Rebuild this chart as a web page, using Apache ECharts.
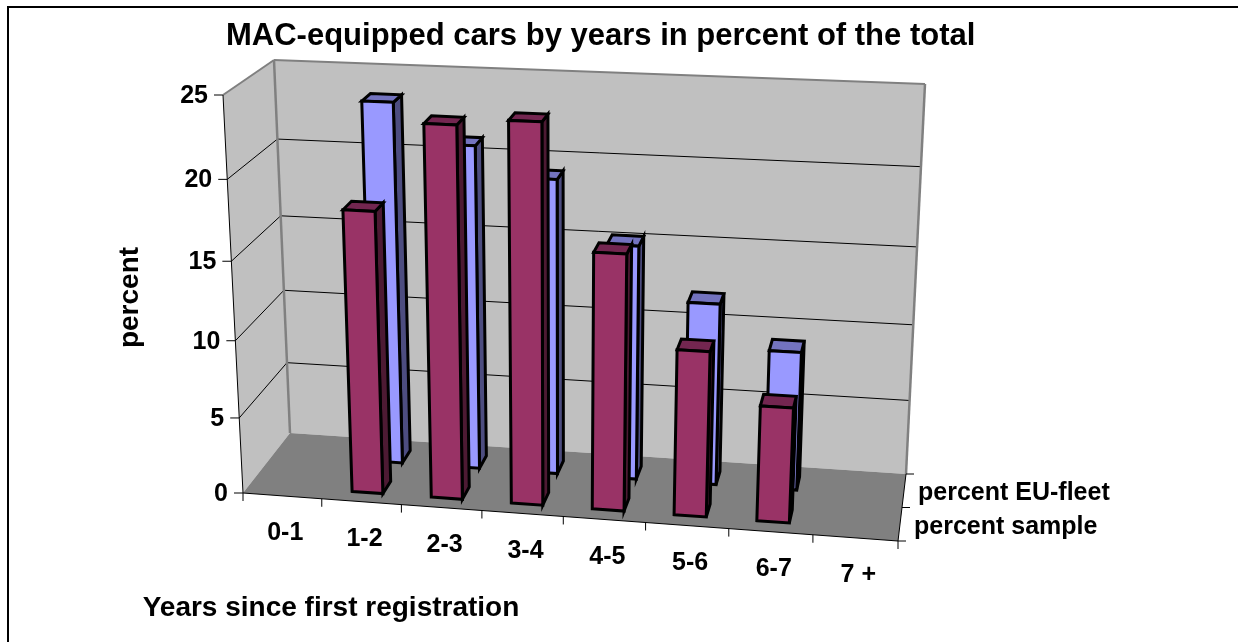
<!DOCTYPE html>
<html><head><meta charset="utf-8">
<style>html,body{margin:0;padding:0;background:#fff}#c{width:1238px;height:642px}</style>
<script src="https://cdn.jsdelivr.net/npm/echarts@6/dist/echarts.min.js"></script>
</head><body><div id="c"></div>
<script>
const categories = ['0-1','1-2','2-3','3-4','4-5','5-6','6-7','7 +'];
const percentSample = [null,18.1,23.5,23.9,16.3,10.6,7.4,null];
const percentFleet = [null,23.5,21.05,19.2,15.3,11.9,9.1,null];
const yTicks = [0,5,10,15,20,25];
const depthLabels = ['percent sample','percent EU-fleet'];
const titleText = 'MAC-equipped cars by years in percent of the total';
const xName = 'Years since first registration';
const yName = 'percent';

const FONT = '"Liberation Sans", Arial, sans-serif';
const C = {A:[243,493],B:[898,541],C:[906,474],D:[290,433],G:[223,95],H:[920,125],F:[925,84],E:[274,60]};
const warp = (x,a)=>x/(a+(1-a)*x);
const mix = (p,q,t)=>[p[0]+(q[0]-p[0])*t,p[1]+(q[1]-p[1])*t];
function proj(u,w,s){
  const t=warp(u/categories.length,1.045), f=warp(s,1.076);
  const b0=mix(mix(C.A,C.B,t),mix(C.D,C.C,t),w);
  const b1=mix(mix(C.G,C.H,t),mix(C.E,C.F,t),w);
  return mix(b0,b1,f);
}
const poly=(pts,fill,stroke,lw)=>({type:'polygon',shape:{points:pts},style:{fill:fill,stroke:stroke||'none',lineWidth:lw||0,lineJoin:'miter',miterLimit:6}});
const line=(p,q,color,lw)=>({type:'line',shape:{x1:p[0],y1:p[1],x2:q[0],y2:q[1]},style:{stroke:color,lineWidth:lw,fill:'none'}});
const text=(x,y,str,size,align,rot)=>({type:'text',x:x,y:y,rotation:rot||0,style:{text:str,fill:'#000',font:'bold '+size+'px '+FONT,textAlign:align||'center',textVerticalAlign:'middle'}});

function valueFrac(api,params,v){
  const cs=params.coordSys, py=api.coord([0,v])[1];
  return (cs.y+cs.height-py)/cs.height;
}
function renderFrame(params,api){
  const ch=[];
  ch.push(line([8,7],[1238,7],'#000',2));
  ch.push(line([8,6],[8,642],'#000',2));
  ch.push(poly([C.G,C.E,C.D,C.A],'#C0C0C0'));
  ch.push(poly([C.E,C.F,C.C,C.D],'#C0C0C0'));
  ch.push(poly([C.A,C.B,C.C,C.D],'#808080'));
  yTicks.forEach(v=>{
    const s=valueFrac(api,params,v);
    if(v>0&&v<25){
      ch.push(line(proj(0,0,s),proj(0,1,s),'#000',1));
      ch.push(line(proj(0,1,s),proj(8,1,s),'#000',1));
    }
    const p=proj(0,0,s);
    ch.push(line([p[0]-9,p[1]],p,'#000',1));
    ch.push(text(p[0]-15,p[1]+1,String(v),25,'right'));
  });
  ch.push(line(C.G,C.E,'#808080',2));
  ch.push(line(C.E,C.F,'#808080',2));
  ch.push(line(C.F,C.C,'#808080',2.5));
  ch.push(line(C.E,C.D,'#808080',2.5));
  ch.push(line(C.A,C.G,'#000',1));
  ch.push(line(C.A,C.B,'#000',1.2));
  ch.push(line(C.B,C.C,'#000',1));
  for(let i=0;i<=categories.length;i++){
    const p=proj(i,0,0);
    ch.push(line(p,[p[0],p[1]+8],'#000',1));
  }
  categories.forEach((c,i)=>{
    const p=proj(i+0.5,0,0);
    ch.push(text(p[0]+3,p[1]+37.5,c,25,'center'));
  });
  [0,0.5,1].forEach(w=>{const p=proj(8,w,0);ch.push(line(p,[p[0]+8,p[1]],'#000',1));});
  depthLabels.forEach((c,i)=>{
    const p=proj(8,0.25+0.5*i,0);
    ch.push(text(p[0]+14,p[1]+2.5,c,25,'left'));
  });
  ch.push(text(331,608,xName,28,'center'));
  ch.push(text(130,297.5,yName,28,'center',Math.PI/2));
  return {type:'group',children:ch};
}
function barRenderer(w0,w1,front,side,top){
  return function(params,api){
    const v=api.value(1);
    if(v==null||isNaN(v)) return;
    const cs=params.coordSys, pt=api.coord([api.value(0),v]);
    const u=(pt[0]-cs.x)/cs.width*categories.length;
    const s=(cs.y+cs.height-pt[1])/cs.height, h=0.195;
    const P=(du,w,z)=>proj(u+du,w,z);
    const lw=3;
    return {type:'group',children:[
      poly([P(h,w0,0),P(h,w1,0),P(h,w1,s),P(h,w0,s)],side,'#000',lw),
      poly([P(-h,w0,s),P(h,w0,s),P(h,w1,s),P(-h,w1,s)],top,'#000',lw),
      poly([P(-h,w0,0),P(h,w0,0),P(h,w0,s),P(-h,w0,s)],front,'#000',lw)
    ]};
  };
}
const toData=a=>a.map((v,i)=>[i,v]);
const chart=echarts.init(document.getElementById('c'),null,{renderer:'canvas'});
chart.setOption({
  animation:false,
  backgroundColor:'#fff',
  title:{text:titleText,left:221,top:16,textStyle:{fontFamily:FONT,fontWeight:'bold',fontSize:31,color:'#000'},z:10},
  grid:{left:100,top:100,width:800,height:400,show:false},
  xAxis:{type:'category',data:categories,show:false},
  yAxis:{type:'value',min:0,max:25,interval:5,show:false},
  tooltip:{show:false},
  series:[
    {type:'custom',name:'frame',data:[[0,0]],renderItem:renderFrame,silent:true,z:1},
    {type:'custom',name:'percent EU-fleet',data:toData(percentFleet),renderItem:barRenderer(0.65,0.85,'#9999FF','#4D4D80','#7373BF'),silent:true,z:2},
    {type:'custom',name:'percent sample',data:toData(percentSample),renderItem:barRenderer(0.15,0.35,'#993366','#4D1A33','#732650'),silent:true,z:3}
  ]
});
</script></body></html>
